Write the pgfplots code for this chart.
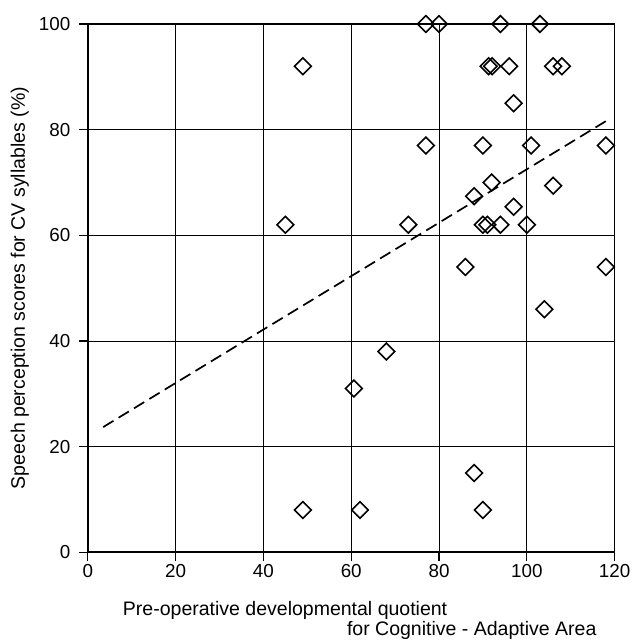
\documentclass[border=0pt]{standalone}
\usepackage{pgfplots}
\pgfplotsset{compat=1.18}
\usepackage{fontspec}
\setmainfont{Liberation Sans}

\begin{document}
\begin{tikzpicture}
\begin{axis}[
  scale only axis,
  width=526.5pt,
  height=528pt,
  xmin=0, xmax=120,
  ymin=0, ymax=100,
  xtick={0,20,...,120},
  ytick={0,20,...,100},
  grid=major,
  grid style={black, line width=0.9pt},
  axis line style={line width=1.7pt},
  tick style={black, line width=1.2pt},
  tick align=outside,
  major tick length=9pt,
  xtick pos=bottom, ytick pos=left,
  /pgf/number format/assume math mode=true,
  ticklabel style={font=\fontsize{18.8}{22}\selectfont},
  yticklabel style={xshift=-5pt},
  label style={font=\fontsize{19.5}{23}\selectfont},
  ylabel={Speech perception scores for CV syllables (\%)},
  ylabel style={at={(axis description cs:-0.129,0.5)}, anchor=center},
  clip=false,
]
% measured points
\addplot[only marks, mark=square, mark size=5.9pt,
  mark options={rotate=45, line width=1.6pt, black}] coordinates {
  (77,100) (80,100) (94,100) (103,100)
  (49,92) (91.3,92) (92.1,92) (96,92) (106,92) (108,92)
  (97,85)
  (77,77) (90,77) (101,77) (118,77)
  (92,70) (106,69.4)
  (88,67.4)
  (97,65.4)
  (45,62) (73,62) (90,62) (91,62) (94,62) (100,62)
  (86,54) (118,54)
  (104,46)
  (68,38)
  (60.6,31)
  (88,15)
  (49,8) (62,8) (90,8)
};
% regression line
\addplot[black, line width=1.7pt, dash pattern=on 12pt off 6pt] coordinates {
  (3.5,23.7) (118,81.6)
};
\node[anchor=base west, inner sep=0pt, font=\fontsize{19.5}{23}\selectfont]
  at (axis description cs:0.0663,-0.1188) {Pre-operative developmental quotient};
\node[anchor=base west, inner sep=0pt, font=\fontsize{19.5}{23}\selectfont]
  at (axis description cs:0.4917,-0.1585) {for Cognitive - Adaptive Area};
\end{axis}
\path ([shift={(-87.8pt,-89.7pt)}]current axis.south west)
  rectangle ([shift={(18.7pt,24pt)}]current axis.north east);
\end{tikzpicture}
\end{document}
